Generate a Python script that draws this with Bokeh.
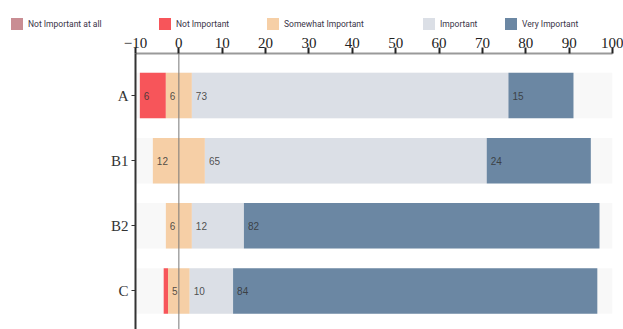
from bokeh.plotting import figure
from bokeh.layouts import column
from bokeh.models import ColumnDataSource, Range1d, FixedTicker, Span, Legend, LegendItem
from bokeh.embed import file_html
from bokeh.resources import INLINE
from bokeh.core.properties import value

# Survey answers per group (percent)
categories = ["A", "B1", "B2", "C"]
not_at_all = [0, 0, 0, 0]
not_important = [6, 0, 0, 1]
somewhat = [6, 12, 6, 5]
important = [73, 65, 12, 10]
very_important = [15, 24, 82, 84]

series_names = ["Not Important at all", "Not Important", "Somewhat Important",
                "Important", "Very Important"]
series_colors = ["#c98d93", "#f7555a", "#f6cfa6", "#dbdfe6", "#6b87a3"]
x_ticks = list(range(-10, 101, 10))
track_range = (-10, 100)

series = [not_at_all, not_important, somewhat, important, very_important]
ypos = list(range(len(categories)))

LEGEND_H = 31

p = figure(width=623, height=329 - LEGEND_H, output_backend="svg", toolbar_location=None,
           x_range=Range1d(-10, 100), y_range=Range1d(3.592, -0.646),
           x_axis_location="above",
           min_border_left=135, min_border_right=11, min_border_top=22,
           min_border_bottom=0)
p.frame_align = False
p.outline_line_color = None
p.grid.visible = False
p.background_fill_color = "white"
p.border_fill_color = "white"

# light background track behind each bar
p.hbar(y=ypos, left=track_range[0], right=track_range[1], height=0.7,
       fill_color="#f8f8f8", line_color=None)

# diverging start: negative answers plus half of "somewhat" go left of zero
starts = [-(a + b + c / 2.0) for a, b, c in zip(not_at_all, not_important, somewhat)]

sources = []
lefts = list(starts)
label_x, label_y, label_t = [], [], []
for vals, color in zip(series, series_colors):
    rights = [l + v for l, v in zip(lefts, vals)]
    src = ColumnDataSource(dict(y=ypos, left=lefts, right=rights))
    sources.append(src)
    p.hbar(y="y", left="left", right="right", height=0.7, source=src,
           fill_color=color, line_color=None)
    for yy, l, v in zip(ypos, lefts, vals):
        if v >= 3:
            label_x.append(l)
            label_y.append(yy)
            label_t.append(str(v))
    lefts = rights

p.text(x=label_x, y=label_y, text=label_t, x_offset=4,
       text_align="left", text_baseline="middle",
       text_font=value("Liberation Sans"), text_font_size="10px",
       text_color="#333333", text_alpha=0.85)

# zero line
p.add_layout(Span(location=0, dimension="height", line_color="#777777", line_width=1))

# top axis
xa = p.xaxis[0]
xa.ticker = FixedTicker(ticks=x_ticks)
xa.axis_line_color = "#9a9a9a"
xa.axis_line_width = 2
xa.major_tick_line_color = "#222222"
xa.major_tick_line_width = 2
xa.major_tick_out = 6
xa.major_tick_in = 0
xa.minor_tick_line_color = None
xa.major_label_text_font = "Liberation Serif"
xa.major_label_text_font_size = "15px"
xa.major_label_text_color = "#222222"
xa.major_label_standoff = 0

# category axis
ya = p.yaxis[0]
ya.ticker = FixedTicker(ticks=ypos)
ya.major_label_overrides = {i: c for i, c in zip(ypos, categories)}
ya.axis_line_color = "#333333"
ya.axis_line_width = 2
ya.major_tick_line_color = "#333333"
ya.major_tick_line_width = 1
ya.major_tick_out = 4
ya.major_tick_in = 0
ya.minor_tick_line_color = None
ya.major_label_text_font = "Liberation Serif"
ya.major_label_text_font_size = "15px"
ya.major_label_text_color = "#333333"
ya.major_label_standoff = 3

# legend strip across the top; its series renderers sit outside its view
lg = figure(width=623, height=LEGEND_H, output_backend="svg", toolbar_location=None,
            x_range=Range1d(-10, 100), y_range=Range1d(10, 11),
            min_border=0, min_border_left=0, min_border_right=0,
            min_border_top=0, min_border_bottom=0)
lg.frame_align = False
lg.axis.visible = False
lg.grid.visible = False
lg.outline_line_color = None
lg.background_fill_color = "white"
lg.border_fill_color = "white"

legend_x = [9, 157, 265, 421, 503]
for name, color, src, lx in zip(series_names, series_colors, sources, legend_x):
    r = lg.hbar(y="y", left="left", right="right", height=0.7, source=src,
                fill_color=color, line_color=None)
    leg = Legend(items=[LegendItem(label=name, renderers=[r])],
                 location=(lx, 0), orientation="horizontal",
                 glyph_width=15, glyph_height=15, label_height=15,
                 label_standoff=4, padding=0, margin=0, spacing=0,
                 border_line_color=None, background_fill_alpha=0,
                 label_text_font="Roboto", label_text_font_size="8.5px",
                 label_text_color="#3a3448")
    lg.add_layout(leg, "center")

layout = column(lg, p, spacing=0)
open("out.html", "w").write(file_html(layout, INLINE))
